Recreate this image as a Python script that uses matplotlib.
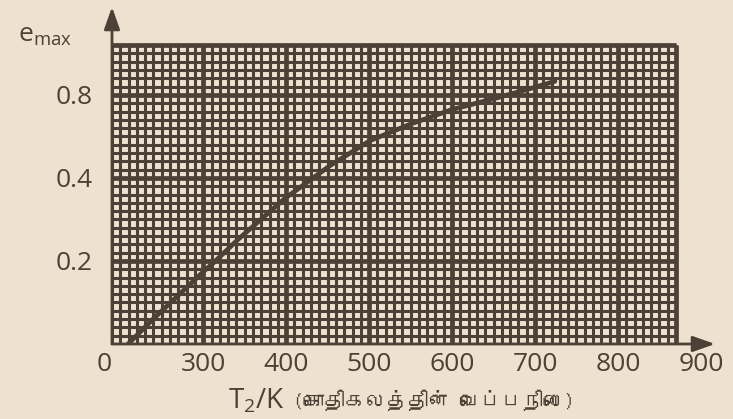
import numpy as np
import matplotlib
matplotlib.use("Agg")
import matplotlib.pyplot as plt
from matplotlib import font_manager, ft2font

# curve (T2 in K, e_max in axis units, 0.2 per big square)
T_curve = [53, 135, 300, 312, 342, 398, 453, 501, 550, 600, 654, 697, 724]
e_curve = [0.0, 0.06, 0.174, 0.195, 0.252, 0.35, 0.43, 0.49, 0.53, 0.565, 0.593, 0.617, 0.633]

x_ticks = [0, 300, 400, 500, 600, 700, 800, 900]
x_labels = ["0", "300", "400", "500", "600", "700", "800", "900"]
y_ticks = [0.2, 0.4, 0.6]
y_labels = ["0.2", "0.4", "0.8"]   # printed this way in the book

x_label_main = r"$\mathregular{T_2}$/K"
x_label_tamil = "(கொதிகலத்தின் வெப்பநிலை)"

PAPER = "#eee1cf"
INK = "#4c4137"


def find_tamil_font():
    for f in font_manager.fontManager.ttflist:
        try:
            if 0x0B95 in ft2font.FT2Font(f.fname).get_charmap():
                return f.name
        except Exception:
            pass
    return None


tamil = find_tamil_font()
plt.rcParams['font.family'] = ['Open Sans', 'DejaVu Sans']
plt.rcParams['mathtext.default'] = 'regular'


# the T axis is squeezed between 0 and 300 K (1.1 big squares), then 100 K per square
def fwd(t):
    t = np.asarray(t, float)
    return np.where(t < 300, t / 300 * 1.1, 1.1 + (t - 300) / 100)


def inv(u):
    u = np.asarray(u, float)
    return np.where(u < 1.1, u / 1.1 * 300, 300 + (u - 1.1) * 100)


fig = plt.figure(figsize=(7.33, 4.19), dpi=100, facecolor=PAPER)
ax = fig.add_axes([112 / 733, 75 / 419, (715 - 112) / 733, (344 - 7) / 419])
ax.set_facecolor(PAPER)
ax.set_xscale('function', functions=(fwd, inv))
ax.set_xlim(0, 917)
ax.set_ylim(0, 0.812)

# graph paper
right, top = 870, 0.72
minor_x = np.concatenate([np.linspace(0, 300, 12), np.arange(310, right + 1, 10)])
minor_y = np.arange(0, top + 1e-6, 0.02)
ax.vlines(minor_x, 0, top, color=INK, lw=2.2, zorder=1)
ax.hlines(minor_y, 0, right, color=INK, lw=2.2, zorder=1)
ax.vlines([300, 400, 500, 600, 700, 800, right], 0, top, color=INK, lw=3.4, zorder=1)
ax.hlines([0.2, 0.4, 0.6, top], 0, right, color=INK, lw=3.4, zorder=1)

ax.plot(T_curve, e_curve, color=INK, lw=3.4, solid_capstyle='round', zorder=3)

# axes with arrows
for s in ax.spines.values():
    s.set_visible(False)
arrow = dict(arrowstyle="-|>,head_length=0.45,head_width=0.16", mutation_scale=30,
             color=INK, lw=2, shrinkA=0, shrinkB=0)
ax.annotate("", xy=(0, 1), xytext=(0, 0), xycoords='axes fraction', arrowprops=arrow, zorder=4)
ax.annotate("", xy=(1, 0), xytext=(0, 0), xycoords='axes fraction', arrowprops=arrow, zorder=4)

ax.set_xticks(x_ticks)
ax.set_xticklabels(x_labels)
ax.set_xticks([], minor=True)
ax.set_yticks(y_ticks)
ax.set_yticklabels(y_labels)
ax.tick_params(axis='x', length=0, pad=6, labelsize=19, labelcolor=INK)
ax.tick_params(axis='y', length=0, pad=14, labelsize=19, labelcolor=INK)
ax.get_xticklabels()[0].set_ha('right')

fig.text(18 / 733, 1 - 42 / 419, r"$\mathregular{e_{max}}$", fontsize=19, color=INK, va='baseline')
fig.text(228 / 733, 1 - 408 / 419, x_label_main, fontsize=20, color=INK, va='baseline')
tamil_family = [tamil, 'DejaVu Sans'] if tamil else ['DejaVu Sans']
fig.text(293 / 733, 1 - 408 / 419, x_label_tamil, fontsize=15, color=INK, va='baseline',
         family=tamil_family)

fig.savefig("out.png", dpi=100, facecolor=PAPER)
